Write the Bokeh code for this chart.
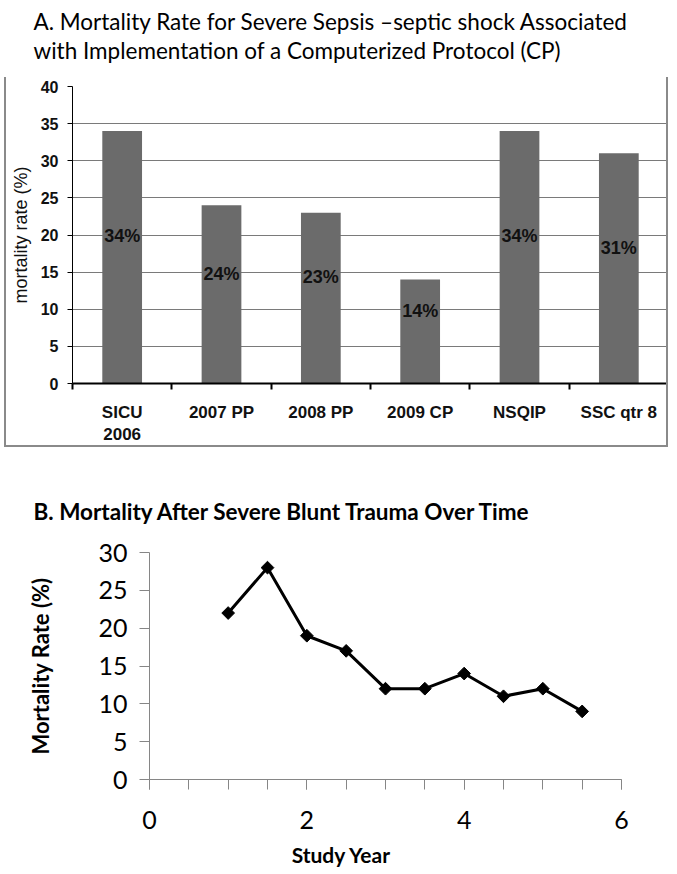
import numpy as np
from bokeh.plotting import figure
from bokeh.models import Range1d, FixedTicker, Label, ColumnDataSource
from bokeh.core.properties import value
from bokeh.embed import file_html
from bokeh.resources import INLINE

# ---------------- data ----------------
# Chart A
categories_a = ["SICU\n2006", "2007 PP", "2008 PP", "2009 CP", "NSQIP", "SSC qtr 8"]
mortality_a = [34, 24, 23, 14, 34, 31]
bar_labels_a = ["34%", "24%", "23%", "14%", "34%", "31%"]
y_ticks_a = [0, 5, 10, 15, 20, 25, 30, 35, 40]

# Chart B
study_year = [1, 1.5, 2, 2.5, 3, 3.5, 4, 4.5, 5, 5.5]
mortality_b = [22, 28, 19, 17, 12, 12, 14, 11, 12, 9]
x_ticks_b = [0, 2, 4, 6]
x_minor_b = [0, 0.5, 1, 1.5, 2, 2.5, 3, 3.5, 4, 4.5, 5, 5.5, 6]
y_ticks_b = [0, 5, 10, 15, 20, 25, 30]

title_a1 = "A. Mortality Rate for Severe Sepsis \u2013septic shock Associated"
title_a2 = "with Implementation of a Computerized Protocol (CP)"
title_b = "B. Mortality After Severe Blunt Trauma Over Time"
xlabel_b = "Study Year"
ylabel_b = "Mortality Rate (%)"
ylabel_a = "mortality rate (%)"

# ---------------- style constants ----------------
W = 677
CAL = "Lato"              # stand-in for Calibri
ARIAL = "Liberation Sans"  # stand-in for Arial
FRAME_COL = "#8a8a8a"


def text_strip(h):
    """A figure whose plot area is the whole canvas, y measured from the top in px."""
    f = figure(width=W, height=h, output_backend="svg", toolbar_location=None,
               x_range=Range1d(0, W), y_range=Range1d(h, 0), min_border=0,
               x_axis_location=None, y_axis_location=None)
    f.grid.visible = False
    f.outline_line_color = None
    f.background_fill_color = "white"
    f.border_fill_color = "white"
    return f


# ---------------- Chart A title strip ----------------
ta = text_strip(77)
ta.add_layout(Label(x=33, y=21, text=title_a1, text_font=CAL, text_font_size="22.5px",
                    text_color="black", text_baseline="alphabetic"))
ta.add_layout(Label(x=33, y=50, text=title_a2, text_font=CAL, text_font_size="22.5px",
                    text_color="black", text_baseline="alphabetic"))

# ---------------- Chart A ----------------
n_a = len(categories_a)
pa = figure(width=664, height=370, output_backend="svg", toolbar_location=None,
            x_range=Range1d(0, n_a), y_range=Range1d(0, y_ticks_a[-1]),
            min_border_left=66, min_border_right=2, min_border_top=9, min_border_bottom=60)
pa.styles = {"margin-left": "4px",
             "border-left": f"2px solid {FRAME_COL}", "border-right": f"2px solid {FRAME_COL}",
             "border-bottom": f"2px solid {FRAME_COL}"}
pa.outline_line_color = None
pa.background_fill_color = "white"
pa.border_fill_color = "white"
pa.xgrid.visible = False
pa.ygrid.ticker = FixedTicker(ticks=y_ticks_a)
pa.ygrid.grid_line_color = "#7a7a7a"
pa.ygrid.grid_line_width = 1

xs_a = [i + 0.5 for i in range(n_a)]
src_a = ColumnDataSource(dict(x=xs_a, top=mortality_a, label=bar_labels_a,
                              label_y=[v / 2 + 2.8 for v in mortality_a]))
pa.vbar(x="x", top="top", width=0.4, source=src_a, fill_color="#6b6b6b", line_color=None)
pa.text(x="x", y="label_y", text="label", source=src_a, text_align="center",
        text_baseline="middle", text_font=value(ARIAL), text_font_style="bold",
        text_font_size="18px", text_color="#111111")

xa = pa.xaxis[0]
xa.ticker = FixedTicker(ticks=xs_a, minor_ticks=list(range(n_a + 1)))
xa.major_label_overrides = {x: c for x, c in zip(xs_a, categories_a)}
xa.major_tick_line_color = None
xa.major_tick_out = 0
xa.major_tick_in = 0
xa.minor_tick_out = 6
xa.minor_tick_in = 0
xa.minor_tick_line_color = "black"
xa.minor_tick_line_width = 2
xa.axis_line_color = "black"
xa.axis_line_width = 2
xa.major_label_standoff = 13
xa.major_label_text_font = ARIAL
xa.major_label_text_font_style = "bold"
xa.major_label_text_font_size = "17px"
xa.major_label_text_color = "#111111"

ya = pa.yaxis[0]
ya.ticker = FixedTicker(ticks=y_ticks_a)
ya.minor_tick_line_color = None
ya.major_tick_out = 5
ya.major_tick_in = 0
ya.major_tick_line_color = "black"
ya.axis_line_color = "black"
ya.axis_line_width = 1
ya.major_label_standoff = 9
ya.major_label_text_font = ARIAL
ya.major_label_text_font_style = "bold"
ya.major_label_text_font_size = "16px"
ya.major_label_text_color = "#111111"
ya.axis_label = ylabel_a
ya.axis_label_text_font = ARIAL
ya.axis_label_text_font_style = "normal"
ya.axis_label_text_font_size = "18px"
ya.axis_label_text_color = "#111111"
ya.axis_label_standoff = 7

# ---------------- Chart B title strip ----------------
tb = text_strip(81)
tb.add_layout(Label(x=33, y=64, text=title_b, text_font=CAL, text_font_style="bold",
                    text_font_size="22.5px", text_color="black", text_baseline="alphabetic"))

# ---------------- Chart B ----------------
pb = figure(width=W, height=315, output_backend="svg", toolbar_location=None,
            x_range=Range1d(0, x_ticks_b[-1]), y_range=Range1d(0, y_ticks_b[-1]),
            min_border_left=149, min_border_right=56, min_border_top=24, min_border_bottom=64)
pb.outline_line_color = None
pb.grid.visible = False
pb.background_fill_color = "white"
pb.border_fill_color = "white"

pb.line(study_year, mortality_b, line_color="black", line_width=3)
pb.scatter(study_year, mortality_b, marker="square", angle=np.pi / 4, size=9,
           fill_color="black", line_color="black")

axis_col = "#868686"
xb = pb.xaxis[0]
xb.ticker = FixedTicker(ticks=x_ticks_b, minor_ticks=x_minor_b)
xb.axis_line_color = axis_col
xb.major_tick_line_color = axis_col
xb.minor_tick_line_color = axis_col
xb.major_tick_out = 10
xb.major_tick_in = 0
xb.minor_tick_out = 10
xb.minor_tick_in = 0
xb.major_label_standoff = 21
xb.major_label_text_font = CAL
xb.major_label_text_font_size = "25px"
xb.major_label_text_color = "black"

yb = pb.yaxis[0]
yb.ticker = FixedTicker(ticks=y_ticks_b)
yb.axis_line_color = axis_col
yb.major_tick_line_color = axis_col
yb.minor_tick_line_color = None
yb.major_tick_out = 10
yb.major_tick_in = 0
yb.major_label_standoff = 12
yb.major_label_text_font = CAL
yb.major_label_text_font_size = "25px"
yb.major_label_text_color = "black"
yb.axis_label = ylabel_b
yb.axis_label_text_font = CAL
yb.axis_label_text_font_style = "bold"
yb.axis_label_text_font_size = "22px"
yb.axis_label_text_color = "black"
yb.axis_label_standoff = 41

# ---------------- Chart B x-label strip ----------------
tc = text_strip(29)
tc.add_layout(Label(x=341, y=11, text=xlabel_b, text_font=CAL, text_font_style="bold",
                    text_font_size="21px", text_color="black", text_align="center",
                    text_baseline="middle"))

open("out.html", "w").write(file_html([ta, pa, tb, pb, tc], INLINE))
